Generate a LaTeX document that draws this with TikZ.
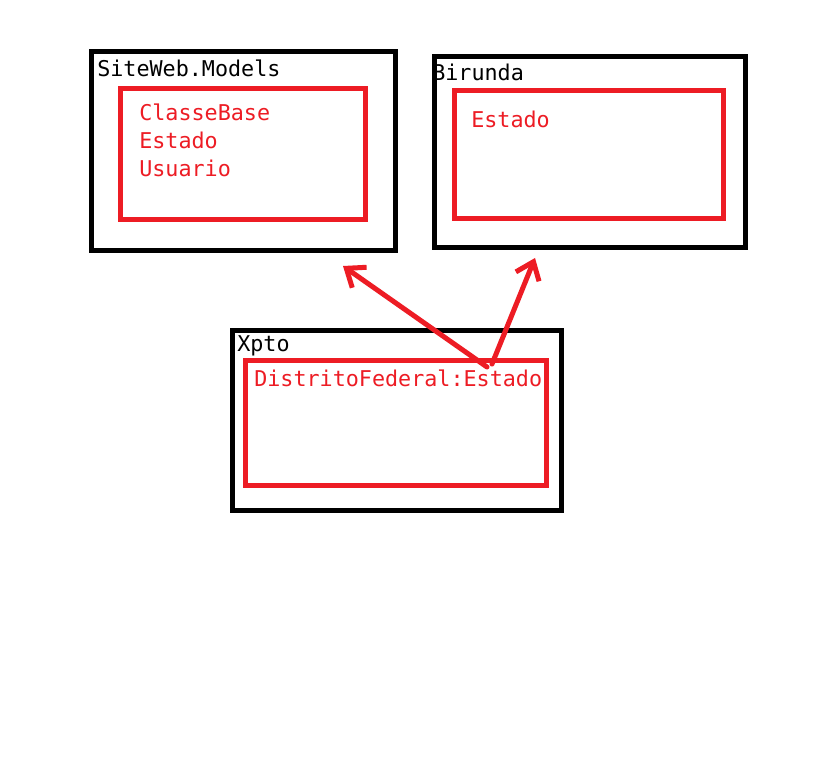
\documentclass[tikz,border=0pt]{standalone}
\usepackage{fontspec}
\setmonofont{DejaVu Sans Mono}
\usetikzlibrary{arrows.meta}
\definecolor{paintred}{HTML}{ED1C24}
\def\u{0.75pt}
\begin{document}
\begin{tikzpicture}[x=0.75pt,y=-0.75pt,
  box/.style={rectangle,anchor=north west,inner sep=0pt,outer sep=0pt,line width=5*\u},
  outerbox/.style={box,draw=black},
  innerbox/.style={box,draw=paintred},
  txt/.style={anchor=base west,inner sep=0pt,font=\ttfamily\fontsize{16.3}{21}\selectfont},
  pkgname/.style={txt,text=black},
  member/.style={txt,text=paintred},
  dep/.style={draw=paintred,line width=5*\u,line cap=round,
    -{Straight Barb[length=16*\u,width=25*\u,line width=5*\u]}}]
  \useasboundingbox (0,0) rectangle (840,763);
  \fill[white] (0,0) rectangle (840,763);

  % SiteWeb.Models
  \node[outerbox,minimum width=304*\u,minimum height=199*\u] (models) at (91,52) {};
  \node[innerbox,minimum width=245*\u,minimum height=131*\u] (modelsin) at (120.5,88.5) {};
  \node[pkgname] (modelsname) at (97,77) {SiteWeb.Models};
  \node[member] (classebase) at (139,121) {ClasseBase};
  \node[member] (estado1) at (139,149) {Estado};
  \node[member] (usuario) at (139,177) {Usuario};

  % Birunda
  \node[outerbox,minimum width=311*\u,minimum height=191*\u] (birunda) at (434,57) {};
  \node[innerbox,minimum width=269*\u,minimum height=128*\u] (birundain) at (454.5,90.5) {};
  \node[pkgname] (birundaname) at (432,81) {Birunda};
  \node[member] (estado2) at (471,128) {Estado};

  % Xpto
  \node[outerbox,minimum width=329*\u,minimum height=179*\u] (xpto) at (232,331) {};
  \node[innerbox,minimum width=301*\u,minimum height=125*\u] (xptoin) at (245.5,360.5) {};
  \node[pkgname] (xptoname) at (237,352) {Xpto};
  \node[member] (distrito) at (254,387) {DistritoFederal:Estado};

  % dependency arrows
  \coordinate (s1) at (487,367);
  \coordinate (t1) at (343,266);
  \coordinate (s2) at (492,364);
  \coordinate (t2) at (535,258);
  \draw[dep] (s1) -- (t1);
  \draw[dep] (s2) -- (t2);
\end{tikzpicture}
\end{document}
